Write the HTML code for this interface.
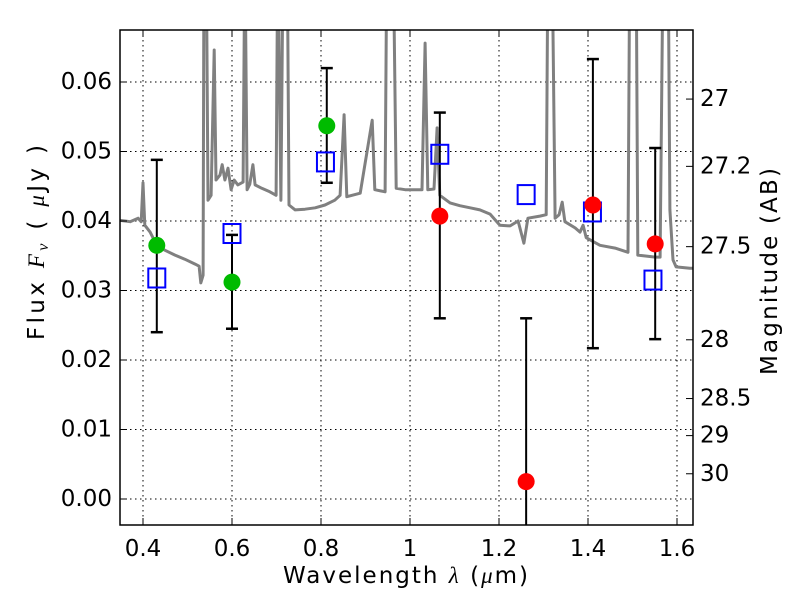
<!DOCTYPE html>
<html><head><meta charset="utf-8"><style>
body{margin:0;background:#fff;}
svg text{font-family:"DejaVu Sans","Liberation Sans",sans-serif;fill:#000;}
</style></head><body>
<svg id="chart" width="800" height="600" xmlns="http://www.w3.org/2000/svg">
<defs><clipPath id="clip"><rect x="120" y="30" width="573" height="495"/></clipPath></defs>
<rect x="0" y="0" width="800" height="600" fill="#fff"/>
<g id="grid"></g>
<g id="spec" clip-path="url(#clip)"></g>
<g id="marks" clip-path="url(#clip)"></g>
<rect x="120" y="30" width="573" height="495" fill="none" stroke="#000" stroke-width="1.5"/>
<g id="axes"></g>
<text x="283" y="583" font-size="23" textLength="245" lengthAdjust="spacing">Wavelength  <tspan font-style="italic" font-family="Liberation Serif">λ</tspan> (<tspan font-style="italic" font-family="Liberation Serif">μ</tspan>m)</text>
<text transform="translate(44,340) rotate(-90)" font-size="23" textLength="195" lengthAdjust="spacing">Flux  <tspan font-style="italic" font-family="Liberation Serif">F</tspan><tspan font-style="italic" font-family="Liberation Serif" font-size="16" dy="4">ν</tspan><tspan dy="-4">  (  </tspan><tspan font-style="italic" font-family="Liberation Serif">μ</tspan>Jy )</text>
<text transform="translate(777,375) rotate(-90)" font-size="23" textLength="207" lengthAdjust="spacing">Magnitude (AB)</text>
</svg>
<script>
const xTicks=[0.4,0.6,0.8,1.0,1.2,1.4,1.6];
const xTickLabels=["0.4","0.6","0.8","1","1.2","1.4","1.6"];
const yTicks=[0,0.01,0.02,0.03,0.04,0.05,0.06];
const yTickLabels=["0.00","0.01","0.02","0.03","0.04","0.05","0.06"];
const magTicks=[27,27.2,27.5,28,28.5,29,30];
const magTickLabels=["27","27.2","27.5","28","28.5","29","30"];
const specLam=[0.348,0.371,0.389,0.396,0.400,0.404,0.416,0.431,0.449,0.472,0.494,0.517,0.526,0.530,0.535,0.537,0.542,0.546,0.553,0.560,0.564,0.573,0.578,0.584,0.591,0.598,0.605,0.613,0.625,0.629,0.634,0.640,0.647,0.652,0.667,0.685,0.699,0.703,0.710,0.715,0.724,0.728,0.742,0.764,0.787,0.809,0.831,0.843,0.852,0.858,0.888,0.915,0.921,0.944,0.948,0.962,0.969,0.989,1.011,1.027,1.034,1.040,1.054,1.061,1.067,1.090,1.112,1.135,1.157,1.180,1.202,1.225,1.243,1.256,1.265,1.292,1.306,1.310,1.319,1.326,1.335,1.342,1.348,1.371,1.382,1.389,1.396,1.427,1.461,1.490,1.494,1.508,1.512,1.551,1.562,1.569,1.580,1.584,1.591,1.598,1.629,1.640];
const specFlux=[0.0401,0.0399,0.0404,0.0399,0.0455,0.0394,0.0384,0.0365,0.0358,0.0351,0.0345,0.0338,0.0335,0.0311,0.0322,0.08,0.08,0.043,0.0437,0.0646,0.0459,0.0466,0.0481,0.0459,0.0476,0.0445,0.0459,0.0452,0.0456,0.08,0.0445,0.0453,0.0481,0.0452,0.0447,0.0442,0.0437,0.08,0.043,0.08,0.08,0.0423,0.0416,0.0417,0.0419,0.0423,0.043,0.0437,0.0553,0.0435,0.044,0.0545,0.0445,0.0442,0.08,0.08,0.0447,0.0445,0.0445,0.0445,0.0656,0.0445,0.0446,0.0534,0.0437,0.0426,0.0422,0.0419,0.0416,0.041,0.0394,0.0393,0.04,0.0368,0.0404,0.0407,0.0409,0.08,0.08,0.0404,0.0409,0.0427,0.0399,0.039,0.0384,0.0394,0.0376,0.0365,0.0361,0.0355,0.08,0.08,0.0351,0.0348,0.0348,0.08,0.08,0.0416,0.0344,0.0334,0.0332,0.0332];
const obsLam=[0.431,0.6,0.813,1.067,1.261,1.411,1.551];
const obsFlux=[0.0365,0.0312,0.0537,0.0407,0.0025,0.0423,0.0367];
const obsLo=[0.024,0.0245,0.0455,0.026,-0.004,0.0217,0.023];
const obsHi=[0.0488,0.038,0.062,0.0556,0.026,0.0633,0.0505];
const obsColor=["#00bb00","#00bb00","#00bb00","#ff0000","#ff0000","#ff0000","#ff0000"];
const modLam=[0.431,0.6,0.81,1.067,1.261,1.41,1.546];
const modFlux=[0.0318,0.0382,0.0485,0.0496,0.0438,0.0413,0.0315];

const X=l=>143+(l-0.4)*445;
const Y=f=>499-f*6950;
const NS="http://www.w3.org/2000/svg";
function mk(tag,attrs,parent){const e=document.createElementNS(NS,tag);for(const k in attrs)e.setAttribute(k,attrs[k]);document.getElementById(parent).appendChild(e);return e;}

xTicks.forEach((t,i)=>{
 const x=X(t);
 const g=mk('line',{x1:x,x2:x,y1:30,y2:525,stroke:'#000','stroke-width':1,'stroke-dasharray':'1.5,3.5'},'grid');
 
 
 mk('line',{x1:x,x2:x,y1:525,y2:518,stroke:'#000'},'axes');
 mk('line',{x1:x,x2:x,y1:30,y2:37,stroke:'#000'},'axes');
 const tx=mk('text',{x:x,y:556,'font-size':23,'text-anchor':'middle'},'axes');
 tx.textContent=xTickLabels[i];
 
 
});
yTicks.forEach((t,i)=>{
 const y=Y(t);
 const g=mk('line',{x1:120,x2:693,y1:y,y2:y,stroke:'#000','stroke-width':1,'stroke-dasharray':'1.5,3.5'},'grid');
 
 
 mk('line',{x1:120,x2:127,y1:y,y2:y,stroke:'#000'},'axes');
 const tx=mk('text',{x:112,y:y+7,'font-size':23,'text-anchor':'end'},'axes');
 tx.textContent=yTickLabels[i];
 
 
});
magTicks.forEach((m,i)=>{
 const y=Y(Math.pow(10,(23.9-m)/2.5));
 mk('line',{x1:686,x2:693,y1:y,y2:y,stroke:'#000'},'axes');
 const tx=mk('text',{x:700,y:y+7,'font-size':23},'axes');
 tx.textContent=magTickLabels[i];
 
 
});
const pts=specLam.map((l,i)=>X(l).toFixed(1)+','+Y(specFlux[i]).toFixed(1)).join(' ');
const sp=mk('polyline',{points:pts,fill:'none',stroke:'#808080','stroke-width':3,'stroke-linejoin':'round'},'spec');


obsLam.forEach((l,i)=>{
 const x=X(l);
 const eb=mk('line',{x1:x,x2:x,y1:Y(obsLo[i]),y2:Y(obsHi[i]),stroke:'#000','stroke-width':2},'marks');
 
 
 mk('line',{x1:x-6,x2:x+6,y1:Y(obsLo[i]),y2:Y(obsLo[i]),stroke:'#000','stroke-width':2.5},'marks');
 mk('line',{x1:x-6,x2:x+6,y1:Y(obsHi[i]),y2:Y(obsHi[i]),stroke:'#000','stroke-width':2.5},'marks');
});
modLam.forEach((l,i)=>{
 const sq=mk('rect',{x:X(l)-8.5,y:Y(modFlux[i])-9.5,width:17,height:19,fill:'none',stroke:'#0000ff','stroke-width':2},'marks');
 
 
});
obsLam.forEach((l,i)=>{
 const c=mk('circle',{cx:X(l),cy:Y(obsFlux[i]),r:8.5,fill:obsColor[i]},'marks');
 
 
});
</script>
</body></html>
